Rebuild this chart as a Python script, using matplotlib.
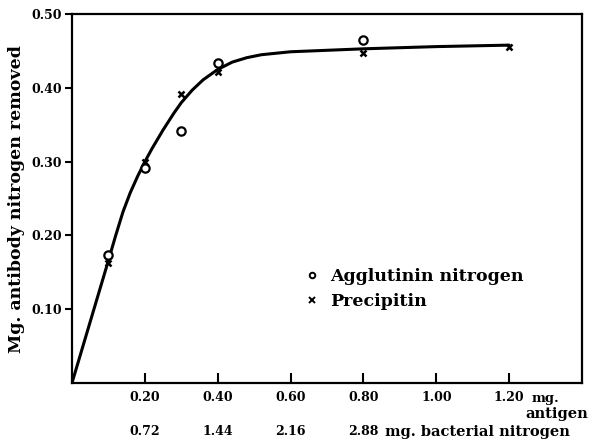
import matplotlib
matplotlib.use("Agg")
import matplotlib.pyplot as plt
from matplotlib.lines import Line2D
from matplotlib.transforms import blended_transform_factory

# measured points (mg antigen vs mg antibody N removed)
antigen_agg = [0.10, 0.20, 0.30, 0.40, 0.80]
agglutinin_n = [0.174, 0.292, 0.342, 0.434, 0.465]
antigen_prec = [0.10, 0.20, 0.30, 0.40, 0.80, 1.20]
precipitin_n = [0.162, 0.300, 0.392, 0.422, 0.447, 0.455]

# smooth curve drawn through the points
curve_x = [0, 0.05, 0.10, 0.12, 0.14, 0.16, 0.18, 0.20, 0.22, 0.25, 0.28,
           0.30, 0.33, 0.36, 0.40, 0.44, 0.48, 0.52, 0.56, 0.60, 0.70, 0.80,
           1.00, 1.20]
curve_y = [0, 0.083, 0.166, 0.200, 0.232, 0.258, 0.280, 0.300, 0.318, 0.343,
           0.366, 0.380, 0.397, 0.411, 0.425, 0.435, 0.441, 0.445, 0.447,
           0.449, 0.451, 0.453, 0.456, 0.458]

x_ticks = [0.2, 0.4, 0.6, 0.8, 1.0, 1.2]
x_ticklabels = ["0.20", "0.40", "0.60", "0.80", "1.00", "1.20"]
y_ticks = [0.1, 0.2, 0.3, 0.4, 0.5]
y_ticklabels = ["0.10", "0.20", "0.30", "0.40", "0.50"]
bact_pos = [0.2, 0.4, 0.6, 0.8]
bact_n = ["0.72", "1.44", "2.16", "2.88"]

font = dict(family="DejaVu Serif", weight="bold")

fig = plt.figure(figsize=(5.89, 4.42), dpi=100)
ax = fig.add_axes([0.1222, 0.1335, 0.866, 0.8345])

ax.plot(curve_x, curve_y, color="black", lw=2.2, solid_capstyle="round",
        solid_joinstyle="round")
ax.plot(antigen_agg, agglutinin_n, "o", ms=6, mfc="white", mec="black", mew=1.6)
ax.plot(antigen_prec, precipitin_n, "x", ms=5, color="black", mew=1.8)

ax.set_xlim(0, 1.40)
ax.set_ylim(0, 0.50)
for s in ax.spines.values():
    s.set_linewidth(1.6)

ax.set_xticks(x_ticks)
ax.set_xticklabels(x_ticklabels, fontsize=9, **font)
ax.set_yticks(y_ticks)
ax.set_yticklabels(y_ticklabels, fontsize=9, **font)
ax.tick_params(axis="x", direction="in", length=7, width=1.5, pad=6)
ax.tick_params(axis="y", direction="out", length=5, width=1.5, pad=2)

ax.set_ylabel("Mg. antibody nitrogen removed", fontsize=12.5, labelpad=5, **font)

tr = blended_transform_factory(ax.transData, ax.transAxes)
ax.text(1.262, -0.024, "mg.", transform=tr, ha="left", va="top", fontsize=9.5, **font)
fig.text(0.998, 0.064, "antigen", ha="right", va="center", fontsize=10.5, **font)
for xp, lab in zip(bact_pos, bact_n):
    ax.text(xp, -0.115, lab, transform=tr, ha="center", va="top", fontsize=9, **font)
ax.text(0.86, -0.115, "mg. bacterial nitrogen", transform=tr, ha="left", va="top",
        fontsize=10.5, **font)

handles = [
    Line2D([], [], ls="none", marker="o", ms=4, mfc="white", mec="black", mew=1.4),
    Line2D([], [], ls="none", marker="x", ms=4, color="black", mew=1.4),
]
ax.legend(handles, ["Agglutinin nitrogen", "Precipitin"], loc="upper left",
          bbox_to_anchor=(0.44, 0.33), frameon=False, handlelength=1.0,
          handletextpad=0.55, labelspacing=0.45, borderaxespad=0,
          prop=dict(family="DejaVu Serif", weight="bold", size=12.5))

fig.savefig("out.png", dpi=100)
